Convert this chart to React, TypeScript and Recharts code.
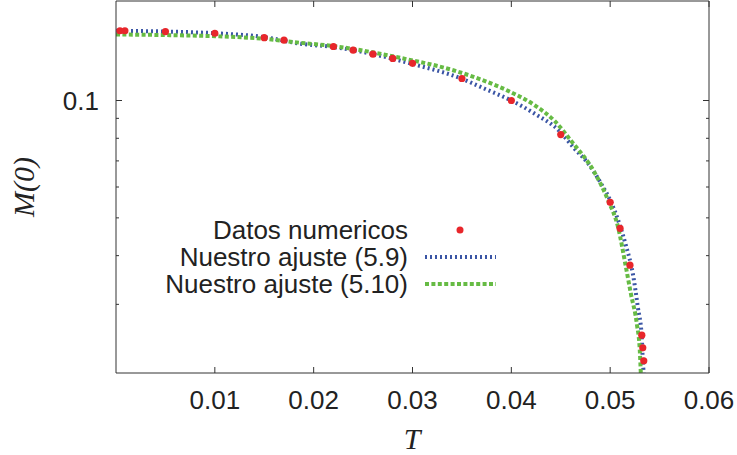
import React from 'react';
import { ComposedChart, Line, Scatter, XAxis, YAxis, Legend } from 'recharts';

// ---- data ----
const dataT = [0.0004, 0.0009, 0.005, 0.01, 0.015, 0.017, 0.022, 0.024, 0.026, 0.028, 0.03, 0.035, 0.04, 0.045, 0.05, 0.051, 0.052, 0.0532, 0.0533, 0.0534];
const dataM = [0.151, 0.151, 0.1503, 0.1488, 0.1449, 0.1428, 0.1376, 0.1346, 0.1315, 0.1282, 0.1246, 0.1139, 0.1, 0.0818, 0.0548, 0.047, 0.0378, 0.025, 0.0232, 0.0215];

const fit59T = [0, 0.005, 0.01, 0.015, 0.0187, 0.022, 0.026, 0.03, 0.035, 0.0373, 0.04, 0.0424, 0.0448, 0.0464, 0.0478, 0.0491, 0.0501, 0.0516, 0.0523, 0.0528, 0.0532, 0.0533, 0.0534];
const fit59M = [0.151, 0.1503, 0.1488, 0.1454, 0.1398, 0.1372, 0.1315, 0.1241, 0.1137, 0.1072, 0.1, 0.0924, 0.0838, 0.0752, 0.0688, 0.0611, 0.0548, 0.0424, 0.0359, 0.0295, 0.0247, 0.0215, 0.02];

const fit510T = [0, 0.005, 0.01, 0.015, 0.0187, 0.022, 0.0288, 0.0342, 0.037, 0.0398, 0.0424, 0.0444, 0.0461, 0.0484, 0.0498, 0.0508, 0.0516, 0.0521, 0.0527, 0.053, 0.0531];
const fit510M = [0.1477, 0.1472, 0.1462, 0.144, 0.1406, 0.1379, 0.1286, 0.1194, 0.113, 0.1055, 0.0971, 0.0885, 0.0785, 0.0655, 0.0554, 0.0473, 0.0373, 0.0319, 0.0267, 0.0228, 0.02];

const xTicks = [0.01, 0.02, 0.03, 0.04, 0.05, 0.06];
const xTickLabels = ['0.01', '0.02', '0.03', '0.04', '0.05', '0.06'];
const yTicks = [0.03, 0.04, 0.05, 0.06, 0.07, 0.08, 0.09, 0.1];
const yMajorTicks = [0.1];
const yMajorLabels = ['0.1'];
const legendLabels = ['Datos numericos', 'Nuestro ajuste (5.9)', 'Nuestro ajuste (5.10)'];

const xDomain = [0, 0.06];
const yDomain = [0.02, 0.18];

// ---- styles ----
const AXIS = '#333';
const TEXT = '#222';
const RED = '#e8262b';
const BLUE = '#3a55a5';
const GREEN = '#66bb44';
const SANS = "'Liberation Sans', Arial, sans-serif";
const SERIF = "'Liberation Serif', 'Times New Roman', serif";
const BLUE_DASH = '2 3';
const GREEN_DASH = '4 2.4';
const FONT = 26;

const points = dataT.map((t, i) => ({ T: t, M: dataM[i] }));
const fit59 = fit59T.map((t, i) => ({ T: t, M: fit59M[i] }));
const fit510 = fit510T.map((t, i) => ({ T: t, M: fit510M[i] }));

const XBottomTick = (props: any) => {
  const { x, y, payload } = props;
  const i = xTicks.indexOf(payload.value);
  return (
    <g>
      <line x1={x} x2={x} y1={y} y2={y - 6} stroke={AXIS} strokeWidth={1} />
      <text x={x} y={y + 35.6} textAnchor="middle" fontFamily={SANS} fontSize={FONT} fill={TEXT}>
        {i >= 0 ? xTickLabels[i] : String(payload.value)}
      </text>
    </g>
  );
};

const XTopTick = (props: any) => {
  const { x, y } = props;
  return <line x1={x} x2={x} y1={y} y2={y + 6} stroke={AXIS} strokeWidth={1} />;
};

const YLeftTick = (props: any) => {
  const { x, y, payload } = props;
  const mi = yMajorTicks.indexOf(payload.value);
  const len = mi >= 0 ? 6 : 3;
  return (
    <g>
      <line x1={x} x2={x + len} y1={y} y2={y} stroke={AXIS} strokeWidth={1} />
      {mi >= 0 && (
        <text x={x - 17} y={y + 9.3} textAnchor="end" fontFamily={SANS} fontSize={FONT} fill={TEXT}>
          {yMajorLabels[mi]}
        </text>
      )}
    </g>
  );
};

const YRightTick = (props: any) => {
  const { x, y, payload } = props;
  const len = yMajorTicks.indexOf(payload.value) >= 0 ? 6 : 3;
  return <line x1={x} x2={x - len} y1={y} y2={y} stroke={AXIS} strokeWidth={1} />;
};

const XLabel = () => (
  <text x={412} y={449} textAnchor="middle" fontFamily={SERIF} fontStyle="italic" fontSize={30} fill={TEXT}>
    T
  </text>
);

const YLabel = () => (
  <text
    x={34}
    y={187}
    transform="rotate(-90, 34, 187)"
    textAnchor="middle"
    fontFamily={SERIF}
    fontStyle="italic"
    fontSize={30}
    fill={TEXT}
  >
    M(0)
  </text>
);

const rowBaselines = [239.3, 266, 292.7];

const renderLegend = () => (
  <div style={{ position: 'relative', width: 737, height: 455, fontFamily: SANS, fontSize: FONT, color: TEXT }}>
    {legendLabels.map((label, i) => {
      const baseline = rowBaselines[i];
      const center = baseline - 9;
      return (
        <React.Fragment key={label}>
          <div
            style={{
              position: 'absolute',
              right: 737 - 408,
              top: baseline - 21,
              height: 24,
              lineHeight: '24px',
              textAlign: 'right',
              whiteSpace: 'nowrap',
            }}
          >
            {label}
          </div>
          <svg style={{ position: 'absolute', left: 424, top: center - 6 }} width={74} height={12}>
            {i === 0 && <circle cx={36} cy={6} r={3.5} fill={RED} />}
            {i === 1 && <line x1={1} x2={72} y1={6} y2={6} stroke={BLUE} strokeWidth={4} strokeDasharray={BLUE_DASH} />}
            {i === 2 && <line x1={1} x2={72} y1={6} y2={6} stroke={GREEN} strokeWidth={4} strokeDasharray={GREEN_DASH} />}
          </svg>
        </React.Fragment>
      );
    })}
  </div>
);

const Dot = (props: any) => {
  const { cx, cy } = props;
  if (cx == null || cy == null) return null;
  return <circle cx={cx} cy={cy} r={3.6} fill={RED} />;
};

export default function App() {
  return (
    <div style={{ position: 'absolute', left: 0, top: 0, width: 737, height: 455, background: '#fff' }}>
      <ComposedChart width={737} height={455} margin={{ top: 0, right: 27, bottom: 81, left: 115 }}>
        <XAxis
          xAxisId="bottom"
          dataKey="T"
          type="number"
          domain={xDomain}
          ticks={xTicks}
          interval={0}
          height={1}
          tickSize={0}
          tickMargin={0}
          tickLine={false}
          axisLine={{ stroke: AXIS, strokeWidth: 1 }}
          tick={<XBottomTick />}
          allowDataOverflow
          label={<XLabel />}
        />
        <XAxis
          xAxisId="top"
          orientation="top"
          dataKey="T"
          type="number"
          domain={xDomain}
          ticks={xTicks}
          interval={0}
          height={1}
          tickSize={0}
          tickMargin={0}
          tickLine={false}
          axisLine={{ stroke: AXIS, strokeWidth: 1 }}
          tick={<XTopTick />}
          allowDataOverflow
        />
        <YAxis
          yAxisId="left"
          dataKey="M"
          type="number"
          scale="log"
          domain={yDomain}
          ticks={yTicks}
          interval={0}
          width={1}
          tickSize={0}
          tickMargin={0}
          tickLine={false}
          axisLine={{ stroke: AXIS, strokeWidth: 1 }}
          tick={<YLeftTick />}
          allowDataOverflow
          label={<YLabel />}
        />
        <YAxis
          yAxisId="right"
          orientation="right"
          dataKey="M"
          type="number"
          scale="log"
          domain={yDomain}
          ticks={yTicks}
          interval={0}
          width={1}
          tickSize={0}
          tickMargin={0}
          tickLine={false}
          axisLine={{ stroke: AXIS, strokeWidth: 1 }}
          tick={<YRightTick />}
          allowDataOverflow
        />
        <Scatter
          name={legendLabels[0]}
          data={points}
          dataKey="M"
          xAxisId="bottom"
          yAxisId="left"
          fill={RED}
          shape={<Dot />}
          isAnimationActive={false}
        />
        <Line
          name={legendLabels[1]}
          data={fit59}
          dataKey="M"
          xAxisId="bottom"
          yAxisId="left"
          type="monotone"
          stroke={BLUE}
          strokeWidth={4}
          strokeDasharray={BLUE_DASH}
          dot={false}
          activeDot={false}
          isAnimationActive={false}
        />
        <Line
          name={legendLabels[2]}
          data={fit510}
          dataKey="M"
          xAxisId="bottom"
          yAxisId="left"
          type="monotone"
          stroke={GREEN}
          strokeWidth={4}
          strokeDasharray={GREEN_DASH}
          dot={false}
          activeDot={false}
          isAnimationActive={false}
        />
        <Legend
          layout="vertical"
          align="center"
          verticalAlign="middle"
          content={renderLegend}
          wrapperStyle={{ left: 0, top: 0, width: 737, height: 455, pointerEvents: 'none' }}
        />
      </ComposedChart>
    </div>
  );
}
